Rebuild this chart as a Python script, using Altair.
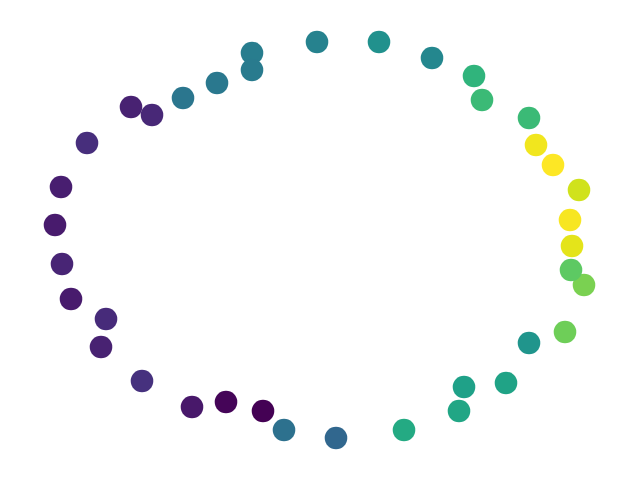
import altair as alt
import pandas as pd

# positions (arbitrary units, y up)
px = [263, 226, 192, 131, 152, 87, 61, 55, 62, 71, 106, 101, 142, 284, 336,
      183, 217, 252, 252, 317, 379, 432, 474, 482, 529, 536, 553, 579, 570,
      572, 584, 571, 565, 529, 506, 464, 459, 404]
py = [411, 402, 407, 107, 115, 143, 187, 225, 264, 299, 319, 347, 381, 430, 438,
      98, 83, 53, 70, 42, 42, 58, 76, 100, 118, 145, 165, 190, 220,
      246, 285, 270, 332, 343, 383, 387, 411, 430]
values = [0.0, 0.01, 0.06, 0.09, 0.11, 0.13, 0.08, 0.07, 0.10, 0.07, 0.12, 0.09, 0.14, 0.37, 0.33,
          0.39, 0.40, 0.42, 0.41, 0.44, 0.50, 0.46, 0.65, 0.68, 0.68, 0.98, 1.0, 0.93, 0.99,
          0.96, 0.80, 0.75, 0.78, 0.52, 0.58, 0.57, 0.59, 0.61]

x = [(v - 320) / 100 for v in px]
y = [(240 - v) / 100 for v in py]

df = pd.DataFrame({"x": x, "y": y, "c": values, "i": list(range(len(x)))})

chart = alt.Chart(df).mark_circle(size=510, opacity=1).encode(
    x=alt.X("x:Q", scale=alt.Scale(domain=[-3.12, 3.12], nice=False, zero=False), axis=None),
    y=alt.Y("y:Q", scale=alt.Scale(domain=[-2.32, 2.32], nice=False, zero=False), axis=None),
    color=alt.Color("c:Q", scale=alt.Scale(scheme="viridis", domain=[0, 1]), legend=None),
    order=alt.Order("i:Q"),
).properties(width=624, height=464, padding=0).configure_view(stroke=None)

chart.save("out.html", embed_options={"renderer": "svg", "actions": False})
